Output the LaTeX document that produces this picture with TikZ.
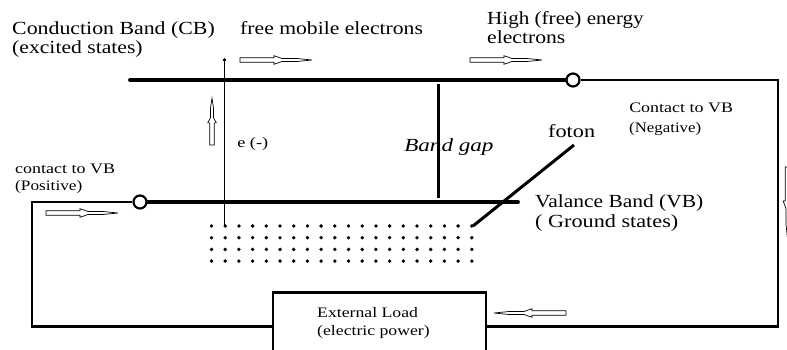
\documentclass[tikz,border=0pt]{standalone}
\usepackage{fontspec}
\setmainfont{Liberation Serif}
\usetikzlibrary{positioning}

\tikzset{
  harrow/.pic={\draw[line width=0.7pt,fill=white] (0,-2.3) -- (34,-2.3) -- (34,-4.3) -- (42,-1.5) -- (57,-1.5)
    -- (72,0) -- (57,1.5) -- (42,1.5) -- (34,4.3) -- (34,2.3) -- (0,2.3) -- cycle;}
}

\begin{document}
\begin{tikzpicture}[x=1pt,y=-1pt,
  bigtxt/.style={font=\fontsize{18.5}{20}\selectfont,inner sep=0,anchor=base west,xscale=#1,transform shape},
  bigtxt/.default=1.17,
  smalltxt/.style={font=\fontsize{14.5}{17}\selectfont,inner sep=0,anchor=base west,xscale=#1,transform shape},
  smalltxt/.default=1.22,
  band/.style={line width=3.8pt,line cap=round},
  wire/.style={line width=2.6pt},
  contact/.style={draw,circle,line width=2.2pt,fill=white,minimum size=13pt,inner sep=0}]
  \clip (0,0) rectangle (787,350);
  \fill[white] (0,0) rectangle (787,350);

  % bands and contacts
  \node[contact] (cbc) at (573,80) {};
  \node[contact] (vbc) at (140,202) {};
  \node[draw,line width=2.8pt,minimum width=213pt,minimum height=68pt,anchor=north] (load) at (379.5,291) {};
  \coordinate (cbL) at (130,80);
  \coordinate (vbR) at (518,202);
  \coordinate (rc) at (778,80);
  \coordinate (lc) at (32,202);
  \draw[band] (cbL) -- (cbc.west);
  \draw[band] (vbc.east) -- (vbR);
  \draw[wire] (cbc.east) -- (rc) |- (load.east);
  \draw[wire] (load.west) -| (lc) -- (vbc.west);

  % band gap and photon
  \coordinate (gapT) at (438,84);
  \coordinate (gapB) at (438,198);
  \draw[line width=3pt] (gapT) -- (gapB);
  \coordinate (ft1) at (473,226);
  \coordinate (ft2) at (574,145);
  \draw[line width=3pt] (ft1) -- (ft2);

  % electron jump
  \node[circle,fill,inner sep=0,minimum size=3.8pt] (edot) at (224.5,60) {};
  \coordinate (ebot) at (224.5,226);
  \draw[line width=0.9pt] (edot) -- (ebot);

  % holes / electrons in VB
  \foreach \i in {0,...,19}
    \foreach \j in {0,...,3}
      \fill ({211.5+13.7*\i},{226+11.7*\j}) circle (1.9pt);

  % flow arrows
  \pic at (240,60) {harrow};
  \pic at (470,60) {harrow};
  \pic at (46,213) {harrow};
  \pic[rotate=180] at (566,313) {harrow};
  \pic[rotate=90,xscale=0.65] at (212,145) {harrow};
  \pic[rotate=-90] at (787.5,167) {harrow};

  % labels
  \node[bigtxt=1.18] (cb1) at (12,35) {Conduction Band (CB)};
  \node[bigtxt] (cb2) at (12,54) {(excited states)};
  \node[bigtxt] (fme) at (240,35) {free mobile electrons};
  \node[bigtxt=1.14] (he1) at (487,25) {High (free) energy};
  \node[bigtxt] (he2) at (487,44) {electrons};
  \node[bigtxt=1.16] (vb1) at (535,207) {Valance Band (VB)};
  \node[bigtxt=1.2] (vb2) at (535,227) {( Ground states)};
  \node[bigtxt=1.2] (fot) at (548,138) {foton};
  \node[bigtxt=1.25,font={\fontsize{18.5}{20}\selectfont\itshape}] (gap) at (404,152) {Band gap};
  \node[smalltxt=1.24] (cn1) at (629,113) {Contact to VB};
  \node[smalltxt=1.16] (cn2) at (629,133) {(Negative)};
  \node[smalltxt=1.24] (cp1) at (15,173) {contact to VB};
  \node[smalltxt=1.19] (cp2) at (15,190) {(Positive)};
  \node[smalltxt=1.26] (elab) at (237,147) {e (-)};
  \node[smalltxt] (ld1) at (317,317) {External Load};
  \node[smalltxt] (ld2) at (317,335) {(electric power)};
\end{tikzpicture}
\end{document}
